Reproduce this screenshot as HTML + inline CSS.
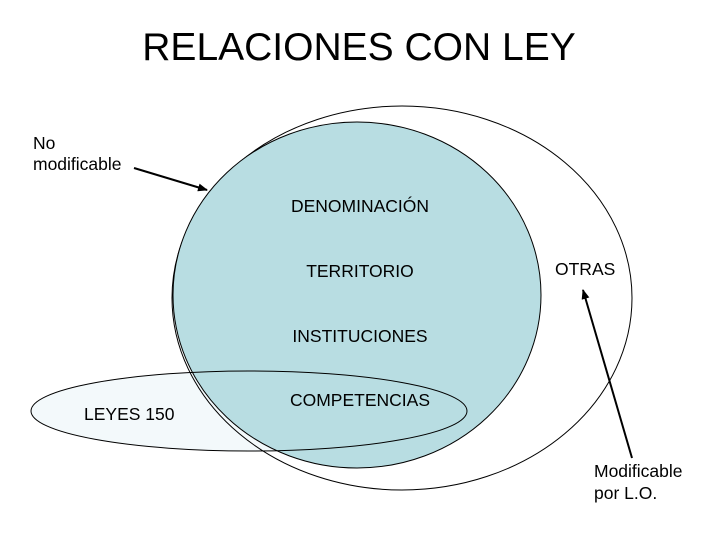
<!DOCTYPE html>
<html><head><meta charset="utf-8"><style>
html,body{margin:0;padding:0;background:#fff;}
svg{display:block;font-family:"Liberation Sans",Arial,sans-serif;}
</style></head><body>
<svg width="720" height="540" viewBox="0 0 720 540" xmlns="http://www.w3.org/2000/svg">
<defs><marker id="a" markerWidth="10" markerHeight="8" refX="9" refY="4" orient="auto" markerUnits="userSpaceOnUse"><path d="M0,0 L10,4 L0,8 z" fill="#000"/></marker></defs>
<rect width="720" height="540" fill="#fff"/>
<text x="359" y="60" font-size="39" text-anchor="middle" fill="#000">RELACIONES CON LEY</text>
<ellipse cx="249" cy="411" rx="218" ry="40" fill="#f3f9fb" stroke="none"/>
<ellipse cx="402" cy="298" rx="230" ry="192" fill="none" stroke="#000" stroke-width="1"/>
<ellipse cx="357" cy="295" rx="184" ry="173" fill="#b8dde2" stroke="#000" stroke-width="1"/>
<ellipse cx="249" cy="411" rx="218" ry="40" fill="none" stroke="#000" stroke-width="1"/>
<g font-size="17.5" fill="#000">
<text x="360" y="212" text-anchor="middle">DENOMINACIÓN</text>
<text x="360" y="277" text-anchor="middle">TERRITORIO</text>
<text x="360" y="342" text-anchor="middle">INSTITUCIONES</text>
<text x="360" y="406" text-anchor="middle">COMPETENCIAS</text>
<text x="84" y="420">LEYES 150</text>
<text x="555" y="275">OTRAS</text>
<text x="33" y="149">No</text>
<text x="33" y="170">modificable</text>
<text x="594" y="477">Modificable</text>
<text x="594" y="499">por L.O.</text>
</g>
<line x1="134" y1="168" x2="207" y2="190" stroke="#000" stroke-width="2" marker-end="url(#a)"/>
<line x1="632" y1="458" x2="583" y2="290" stroke="#000" stroke-width="2" marker-end="url(#a)"/>
</svg>
</body></html>
